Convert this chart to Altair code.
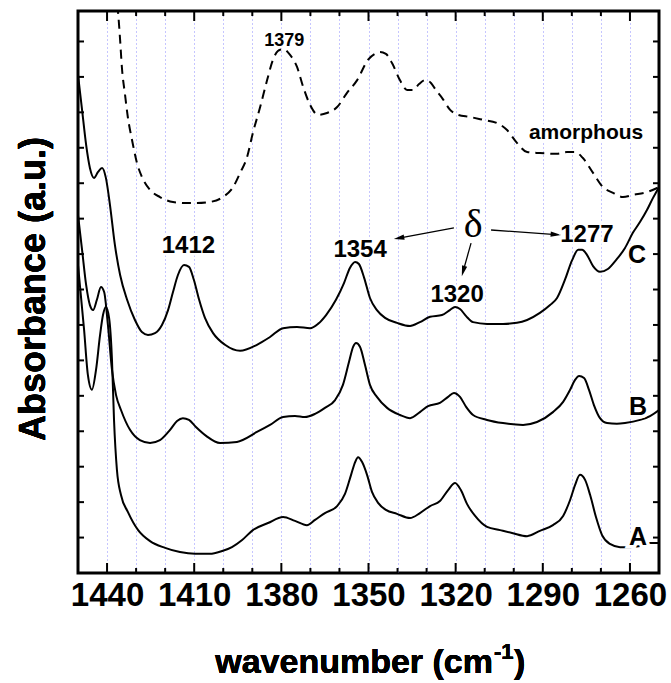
import altair as alt
import pandas as pd

# ---------------- data ----------------
A_wn = [1450, 1447.9, 1446.6, 1445.2, 1443.8, 1442.4, 1441.4, 1440.4, 1439.3, 1438.3,
        1437.6, 1436.6, 1435.2, 1432.8, 1429.3, 1425.2, 1420.0, 1414.9, 1409.7, 1404.6,
        1400.4, 1397.0, 1393.5, 1389.8, 1384.6, 1379.4, 1375.3, 1371.2, 1368.4, 1365.0,
        1360.8, 1358.1, 1356.0, 1354.6, 1353.6, 1352.2, 1350.5, 1348.8, 1346.7, 1344.0,
        1340.2, 1335.7, 1332.3, 1328.8, 1325.4, 1322.6, 1320.2, 1318.2, 1316.1, 1313.3,
        1309.2, 1304.7, 1300.6, 1295.4, 1291.0, 1286.5, 1283.0, 1280.6, 1278.9, 1277.2,
        1275.4, 1273.7, 1271.7, 1269.6, 1266.9, 1263.4, 1260.0, 1256.5, 1253.1, 1250.0]
A_ab = [8.69, 6.86, 5.59, 5.17, 5.73, 6.72, 7.28, 7.51, 7.20, 6.01,
        4.32, 2.91, 2.20, 1.72, 1.21, 0.90, 0.71, 0.59, 0.54, 0.54,
        0.62, 0.73, 0.93, 1.21, 1.41, 1.58, 1.47, 1.35, 1.50, 1.69,
        1.89, 2.23, 2.77, 3.13, 3.27, 3.13, 2.77, 2.29, 1.98, 1.78,
        1.67, 1.55, 1.69, 1.89, 2.03, 2.34, 2.54, 2.34, 1.95, 1.61,
        1.30, 1.21, 1.13, 1.04, 1.19, 1.35, 1.61, 2.06, 2.48, 2.77,
        2.62, 2.20, 1.58, 1.07, 0.82, 0.73, 0.73, 0.76, 0.85, 0.85]

B_wn = [1450, 1448.6, 1447.2, 1445.9, 1444.8, 1443.5, 1442.1, 1441.0, 1439.7, 1438.3,
        1436.9, 1435.2, 1432.1, 1428.7, 1425.2, 1421.8, 1418.3, 1415.9, 1413.9, 1411.8,
        1409.4, 1405.9, 1401.1, 1395.3, 1388.4, 1383.9, 1379.4, 1375.3, 1371.9, 1368.4,
        1365.0, 1361.5, 1358.8, 1356.7, 1355.3, 1354.3, 1352.9, 1351.2, 1349.5, 1347.1,
        1343.6, 1339.2, 1335.7, 1332.3, 1329.5, 1325.4, 1322.6, 1320.6, 1318.5, 1316.4,
        1314.0, 1309.2, 1303.7, 1296.8, 1292.0, 1286.5, 1283.0, 1280.6, 1278.9, 1277.5,
        1275.8, 1274.1, 1272.4, 1270.3, 1267.9, 1264.5, 1261.7, 1256.5, 1253.1, 1250.0]
B_ab = [10.10, 9.12, 8.13, 7.56, 7.42, 7.71, 8.07, 7.93, 7.00, 5.73,
        5.02, 4.60, 4.04, 3.75, 3.67, 3.75, 4.04, 4.29, 4.37, 4.32,
        4.12, 3.87, 3.67, 3.70, 3.98, 4.18, 4.40, 4.43, 4.40, 4.49,
        4.66, 4.88, 5.31, 5.96, 6.38, 6.49, 6.38, 5.87, 5.31, 4.97,
        4.66, 4.46, 4.37, 4.54, 4.71, 4.80, 4.97, 5.08, 4.97, 4.69,
        4.46, 4.32, 4.23, 4.18, 4.26, 4.54, 4.83, 5.17, 5.45, 5.56,
        5.50, 5.17, 4.74, 4.37, 4.23, 4.21, 4.23, 4.32, 4.43, 4.60]

C_wn = [1450, 1448.6, 1447.2, 1445.9, 1444.5, 1443.1, 1441.7, 1440.4, 1439.0, 1437.3,
        1435.5, 1433.1, 1430.4, 1428.0, 1425.9, 1423.5, 1421.1, 1419.0, 1417.3, 1415.6,
        1413.5, 1411.8, 1410.1, 1408.3, 1406.3, 1403.5, 1399.4, 1394.2, 1388.4, 1383.9,
        1379.4, 1374.6, 1370.1, 1367.4, 1364.6, 1361.2, 1358.4, 1356.4, 1354.6, 1353.3,
        1351.5, 1349.5, 1347.1, 1344.3, 1340.2, 1335.7, 1332.3, 1328.8, 1324.7, 1322.0,
        1320.2, 1318.5, 1316.4, 1314.0, 1309.2, 1303.7, 1298.9, 1295.4, 1291.0, 1287.5,
        1285.1, 1282.4, 1279.9, 1277.8, 1276.5, 1274.8, 1272.7, 1270.3, 1267.6, 1264.8,
        1261.7, 1259.0, 1256.5, 1254.1, 1252.1, 1250.0]
C_ab = [14.06, 13.07, 12.08, 11.43, 11.15, 11.32, 11.43, 11.15, 10.39, 9.26,
        8.41, 7.71, 7.14, 6.80, 6.72, 6.77, 7.00, 7.42, 7.93, 8.41,
        8.69, 8.64, 8.27, 7.71, 7.20, 6.77, 6.44, 6.27, 6.44, 6.66,
        6.91, 6.94, 6.91, 7.03, 7.28, 7.71, 8.19, 8.61, 8.78, 8.72,
        8.33, 7.76, 7.42, 7.20, 7.06, 6.97, 7.08, 7.23, 7.28, 7.42,
        7.51, 7.45, 7.25, 7.08, 7.03, 7.03, 7.06, 7.14, 7.34, 7.56,
        7.76, 8.27, 8.83, 9.12, 9.12, 8.98, 8.66, 8.50, 8.58, 8.83,
        9.17, 9.60, 9.91, 10.25, 10.58, 10.89]

AM_wn = [1437.3, 1436.2, 1435.5, 1434.9, 1433.8, 1432.8, 1431.4, 1429.7, 1428.0, 1425.2,
         1421.8, 1417.3, 1412.5, 1409.0, 1404.6, 1400.1, 1396.6, 1394.2, 1391.8, 1389.8,
         1387.3, 1384.9, 1382.9, 1381.2, 1379.4, 1377.0, 1374.6, 1372.5, 1370.1, 1367.4,
         1364.3, 1360.8, 1357.4, 1353.9, 1350.2, 1347.8, 1346.0, 1344.0, 1341.9, 1339.2,
         1336.7, 1334.7, 1332.6, 1330.5, 1328.5, 1326.8, 1324.7, 1321.9, 1319.2, 1315.1,
         1310.6, 1305.8, 1302.3, 1298.9, 1295.4, 1291.0, 1285.1, 1281.7, 1278.9, 1276.2,
         1272.7, 1269.3, 1265.8, 1262.4, 1259.0, 1254.1, 1250.0]
AM_ab = [16.45, 15.81, 15.04, 14.28, 13.49, 12.84, 12.22, 11.57, 11.18, 10.81,
         10.61, 10.47, 10.44, 10.44, 10.47, 10.61, 10.89, 11.29, 11.74, 12.42,
         13.15, 13.91, 14.48, 14.73, 14.79, 14.62, 14.28, 13.72, 13.21, 12.93,
         12.98, 13.15, 13.55, 13.91, 14.48, 14.65, 14.70, 14.65, 14.39, 13.91,
         13.63, 13.63, 13.80, 13.91, 13.83, 13.63, 13.41, 13.07, 12.93, 12.87,
         12.79, 12.70, 12.50, 12.14, 11.88, 11.85, 11.83, 11.88, 11.88, 11.71,
         11.29, 10.89, 10.73, 10.61, 10.67, 10.75, 10.89]

# annotations
ann_text = ["1379", "1412", "1354", "1320", "1277"]
ann_wn = [1379.0, 1412.0, 1352.9, 1319.5, 1274.8]
ann_ab = [14.87, 9.03, 8.92, 7.65, 9.34]
ann_size = [18, 24, 24, 24, 24]

lab_text = ["C", "B", "A", "amorphous"]
lab_wn = [1257.6, 1257.2, 1257.2, 1275.1]
lab_ab = [8.75, 4.46, 0.79, 12.25]
lab_size = [25, 25, 25, 21]

delta_wn = [1314.0]
delta_ab = [9.48]

arrow_wn1 = [1320.6, 1307.8, 1314.7]
arrow_ab1 = [9.74, 9.68, 9.31]
arrow_wn2 = [1339.5, 1285.5, 1317.4]
arrow_ab2 = [9.45, 9.55, 8.52]
arrow_angle = [259.4, 94.1, 195.3]

x_grid = list(range(1440, 1255, -10))
y_ticks = list(range(1, 16))

XMIN, XMAX = 1250, 1450
YMIN, YMAX = 0, 15.86
W, H = 581, 562

# ---------------- frames ----------------
curves = pd.concat([
    pd.DataFrame({"wn": A_wn, "ab": A_ab, "s": "A"}),
    pd.DataFrame({"wn": B_wn, "ab": B_ab, "s": "B"}),
    pd.DataFrame({"wn": C_wn, "ab": C_ab, "s": "C"}),
])
amorph = pd.DataFrame({"wn": AM_wn, "ab": AM_ab})
ann = pd.DataFrame({"t": ann_text, "wn": ann_wn, "ab": ann_ab, "fs": ann_size})
labs = pd.DataFrame({"t": lab_text, "wn": lab_wn, "ab": lab_ab, "fs": lab_size})
delta = pd.DataFrame({"wn": delta_wn, "ab": delta_ab, "t": ["δ"]})
arrows = pd.DataFrame({"wn": arrow_wn1, "ab": arrow_ab1, "wn2": arrow_wn2,
                       "ab2": arrow_ab2, "ang": arrow_angle})

ux = (XMAX - XMIN) / W
uy = (YMAX - YMIN) / H
xt = pd.DataFrame({"wn": x_grid})
xt["major"] = xt["wn"] % 30 == 0
xt["len"] = xt["major"].map({True: 10 * uy, False: 5 * uy})
xt["b0"] = YMIN
xt["b1"] = YMIN + xt["len"]
xt["t0"] = YMAX
xt["t1"] = YMAX - xt["len"]
yt = pd.DataFrame({"ab": y_ticks})
yt["l0"] = XMAX
yt["l1"] = XMAX - 6 * ux
yt["r0"] = XMIN
yt["r1"] = XMIN + 6 * ux

xscale = alt.Scale(domain=[XMIN, XMAX], reverse=True, nice=False, zero=False)
yscale = alt.Scale(domain=[YMIN, YMAX], nice=False, zero=False)
xaxis = alt.Axis(values=x_grid, format="d",
                 labelExpr="datum.value % 30 == 0 ? datum.label : ''",
                 title=None, ticks=False, domain=False, grid=True,
                 gridColor="#8c8cff", gridDash=[1, 3], gridWidth=1, gridOpacity=1,
                 labelFont="Liberation Sans", labelFontWeight="bold", labelFontSize=33,
                 labelColor="black", labelPadding=6, labelFlush=False, labelOverlap=False)


def X(f):
    return alt.X(f, type="quantitative", scale=xscale, axis=xaxis)


def Y(f):
    return alt.Y(f, type="quantitative", scale=yscale, axis=None)


solid = alt.Chart(curves).mark_line(color="black", strokeWidth=2, interpolate="monotone",
                                    clip=True).encode(
    x=X("wn"), y=Y("ab"), detail="s:N", order=alt.Order("wn:Q", sort="descending"))
dashed = alt.Chart(amorph).mark_line(color="black", strokeWidth=2, strokeDash=[9, 6],
                                     interpolate="monotone", clip=True).encode(
    x=X("wn"), y=Y("ab"), order=alt.Order("wn:Q", sort="descending"))

bt = alt.Chart(xt).mark_rule(color="black", strokeWidth=2).encode(
    x=X("wn"), y=Y("b0"), y2="b1")
tt = alt.Chart(xt).mark_rule(color="black", strokeWidth=2).encode(
    x=X("wn"), y=Y("t0"), y2="t1")
lt = alt.Chart(yt).mark_rule(color="black", strokeWidth=2).encode(
    y=Y("ab"), x=X("l0"), x2="l1")
rt = alt.Chart(yt).mark_rule(color="black", strokeWidth=2).encode(
    y=Y("ab"), x=X("r0"), x2="r1")

FONT = "Liberation Sans"

ann_h = alt.Chart(ann).mark_text(font=FONT, fontWeight="bold", color="white", stroke="white",
                                 strokeWidth=5, align="center", baseline="alphabetic").encode(
    x=X("wn"), y=Y("ab"), text="t:N", size=alt.Size("fs:Q", scale=None, legend=None))
ann_t = alt.Chart(ann).mark_text(font=FONT, fontWeight="bold", color="black", align="center",
                                 baseline="alphabetic").encode(
    x=X("wn"), y=Y("ab"), text="t:N", size=alt.Size("fs:Q", scale=None, legend=None))
lab_h = alt.Chart(labs).mark_text(font=FONT, fontWeight="bold", color="white", stroke="white",
                                  strokeWidth=7, align="center", baseline="alphabetic").encode(
    x=X("wn"), y=Y("ab"), text="t:N", size=alt.Size("fs:Q", scale=None, legend=None))
lab_t = alt.Chart(labs).mark_text(font=FONT, fontWeight="bold", color="black", align="center",
                                  baseline="alphabetic").encode(
    x=X("wn"), y=Y("ab"), text="t:N", size=alt.Size("fs:Q", scale=None, legend=None))
delta_h = alt.Chart(delta).mark_text(font="Liberation Serif", fontSize=40, color="white",
                                     stroke="white", strokeWidth=6, align="center",
                                     baseline="alphabetic").encode(x=X("wn"), y=Y("ab"), text="t:N")
delta_t = alt.Chart(delta).mark_text(font="Liberation Serif", fontSize=40, color="black",
                                     align="center", baseline="alphabetic").encode(
    x=X("wn"), y=Y("ab"), text="t:N")

arr_line = alt.Chart(arrows).mark_rule(color="black", strokeWidth=1.3).encode(
    x=X("wn"), y=Y("ab"), x2="wn2", y2="ab2")
arr_head = alt.Chart(arrows).mark_point(shape="M0,-1L0.5,1L-0.5,1Z", filled=True,
                                        color="black", opacity=1, size=110).encode(
    x=X("wn2"), y=Y("ab2"), angle=alt.Angle("ang:Q", scale=None))

# axis titles (drawn as text so the superscript can be reproduced)
ytitle = alt.Chart(ann).mark_text(text="Absorbance (a.u.)", font=FONT, fontWeight="bold",
                                  fontSize=36, angle=270, align="center",
                                  baseline="alphabetic").encode(
    x=alt.value(-33), y=alt.value(278))
xt1 = alt.Chart(ann).mark_text(text="wavenumber (cm", font=FONT, fontWeight="bold",
                               fontSize=34, align="right", baseline="alphabetic").encode(
    x=alt.value(415), y=alt.value(662))
xt2 = alt.Chart(ann).mark_text(text="-1", font=FONT, fontWeight="bold",
                               fontSize=22, align="left", baseline="alphabetic").encode(
    x=alt.value(416), y=alt.value(648))
xt3 = alt.Chart(ann).mark_text(text=")", font=FONT, fontWeight="bold",
                               fontSize=34, align="left", baseline="alphabetic").encode(
    x=alt.value(436), y=alt.value(662))

chart = alt.layer(
    dashed, solid, bt, tt, lt, rt,
    arr_line, arr_head,
    ann_h, ann_t, lab_h, lab_t, delta_h, delta_t,
    ytitle, xt1, xt2, xt3,
).properties(
    width=W, height=H,
    autosize=alt.AutoSizeParams(type="none"),
    padding={"left": 78, "top": 11, "right": 12, "bottom": 110},
    background="white",
).configure_view(stroke="black", strokeWidth=3)

chart.save("out.html", embed_options={"renderer": "svg", "actions": False})
